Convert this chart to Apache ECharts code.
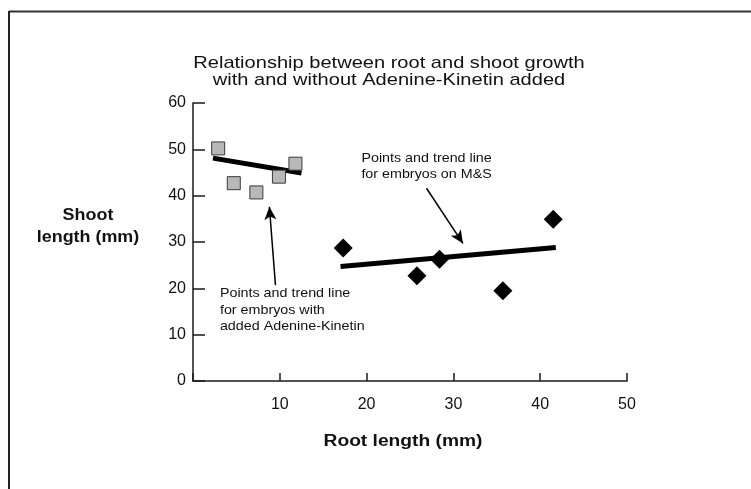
<!DOCTYPE html>
<html>
<head>
<meta charset="utf-8">
<script src="https://cdn.jsdelivr.net/npm/echarts@6/dist/echarts.min.js"></script>
<style>
  html, body { margin: 0; padding: 0; background: #fff; }
  #chart { width: 751px; height: 489px; }
</style>
</head>
<body>
<div id="chart"></div>
<script>
// Embryos grown with added Adenine-Kinetin: [root length, shoot length] (mm)
const adenineKinetinPoints = [[2.9, 50.2], [4.7, 42.7], [7.3, 40.7], [9.9, 44.1], [11.8, 46.9]];
const adenineKinetinTrend = [[2.3, 48.1], [12.5, 44.9]];

// Embryos grown on M&S medium
const msPoints = [[17.3, 28.7], [25.8, 22.7], [28.4, 26.3], [35.7, 19.5], [41.5, 34.9]];
const msTrend = [[17.0, 24.7], [41.8, 28.8]];

// Callout arrows (from, to) in data units
const msArrow = [[26.9, 41.6], [31.1, 29.7]];
const akArrow = [[9.5, 20.7], [8.8, 37.6]];

// Callout text anchors (top-left) in data units
const msNoteAt = [19.4, 49.8];
const msNote = ['Points and trend line', 'for embryos on M&S'];
const akNoteAt = [3.1, 20.6];
const akNote = ['Points and trend line', 'for embryos with', 'added Adenine-Kinetin'];

const titleLines = ['Relationship between root and shoot growth', 'with and without Adenine-Kinetin added'];
const xName = 'Root length (mm)';
const yNameLines = ['Shoot', 'length (mm)'];
const xTicks = [10, 20, 30, 40, 50];
const yTicks = [0, 10, 20, 30, 40, 50, 60];

const FONT = '"Liberation Sans", Arial, Helvetica, sans-serif';
const INK = '#111';
const chart = echarts.init(document.getElementById('chart'), null, { renderer: 'canvas' });

const axisLine = { show: true, lineStyle: { color: '#1a1a1a', width: 1.5 } };

chart.setOption({
  backgroundColor: '#fff',
  animation: false,
  grid: { left: 193, right: 124, top: 103, bottom: 108 },
  xAxis: {
    type: 'value', min: 0, max: 50, interval: 10,
    axisLine: axisLine,
    axisTick: { show: true, inside: true, length: 8, lineStyle: { color: '#1a1a1a', width: 1.5 } },
    axisLabel: {
      margin: 16, fontFamily: FONT, fontSize: 16, color: INK,
      formatter: v => (xTicks.indexOf(v) >= 0 ? String(v) : '')
    },
    splitLine: { show: false }
  },
  yAxis: {
    type: 'value', min: 0, max: 60, interval: 10,
    axisLine: axisLine,
    axisTick: { show: true, inside: true, length: 12, lineStyle: { color: '#1a1a1a', width: 1.5 } },
    axisLabel: {
      margin: 7, fontFamily: FONT, fontSize: 16, color: INK,
      formatter: v => (yTicks.indexOf(v) >= 0 ? String(v) : '')
    },
    splitLine: { show: false }
  },
  series: [
    {
      type: 'line', data: adenineKinetinTrend, symbol: 'none', z: 2,
      lineStyle: { color: '#000', width: 5, cap: 'butt' }
    },
    {
      type: 'scatter', data: adenineKinetinPoints, symbol: 'rect', symbolSize: 13, z: 3,
      itemStyle: { color: '#b8b8b8', borderColor: '#3a3a3a', borderWidth: 1, opacity: 1 }
    },
    {
      type: 'line', data: msTrend, symbol: 'none', z: 2,
      lineStyle: { color: '#000', width: 5, cap: 'butt' },
      markLine: {
        silent: true, symbol: ['none', 'arrow'], symbolSize: [9, 13],
        lineStyle: { color: '#000', width: 1.5, type: 'solid' },
        label: { show: false },
        data: [
          [{ coord: msArrow[0] }, { coord: msArrow[1] }],
          [{ coord: akArrow[0] }, { coord: akArrow[1] }]
        ]
      }
    },
    {
      type: 'scatter', data: msPoints, symbol: 'diamond', symbolSize: [19, 19], z: 3,
      itemStyle: { color: '#000', opacity: 1 }
    }
  ]
});

// Text in this figure is set slightly wide; a horizontal scale keeps the glyph height.
function label(text, x, y, opts) {
  return {
    type: 'text', x: x, y: y, scaleX: opts.scaleX || 1, silent: true,
    style: {
      text: text, font: opts.font, lineHeight: opts.lineHeight, fill: INK,
      textAlign: opts.align || 'left', textVerticalAlign: opts.vAlign || 'top'
    }
  };
}
function note(at, lines) {
  const p = chart.convertToPixel({ gridIndex: 0 }, at);
  return label(lines.join('\n'), p[0], p[1], { font: '13px ' + FONT, lineHeight: 16.3, scaleX: 1.1 });
}

chart.setOption({
  graphic: [
    // figure frame (top and left edges)
    { type: 'line', shape: { x1: 9, y1: 11.5, x2: 751, y2: 11.5 }, style: { stroke: '#333', lineWidth: 2 } },
    { type: 'line', shape: { x1: 9, y1: 11, x2: 9, y2: 489 }, style: { stroke: '#222', lineWidth: 2 } },
    label(titleLines.join('\n'), 389, 72, { font: '17px ' + FONT, lineHeight: 17, scaleX: 1.18, align: 'center', vAlign: 'middle' }),
    label(xName, 403, 442, { font: 'bold 16px ' + FONT, lineHeight: 18, scaleX: 1.2, align: 'center', vAlign: 'middle' }),
    label(yNameLines.join('\n'), 88, 226.5, { font: 'bold 16px ' + FONT, lineHeight: 22, scaleX: 1.12, align: 'center', vAlign: 'middle' }),
    note(msNoteAt, msNote),
    note(akNoteAt, akNote)
  ]
});
</script>
</body>
</html>
